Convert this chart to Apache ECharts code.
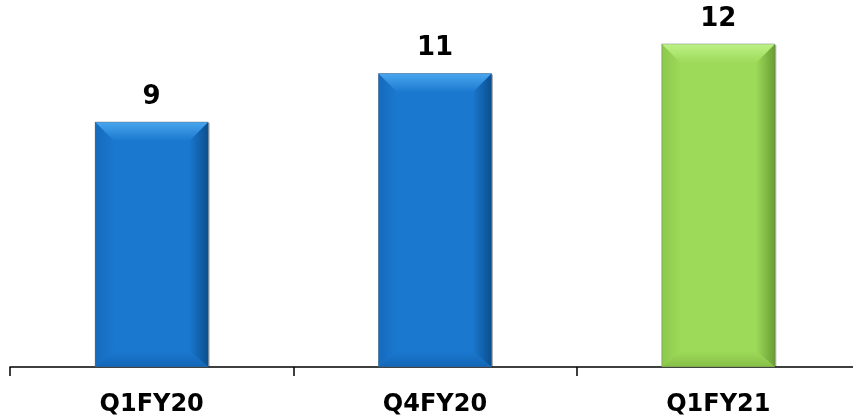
<!DOCTYPE html>
<html><head><meta charset="utf-8">
<script src="https://cdn.jsdelivr.net/npm/echarts@6/dist/echarts.min.js"></script>
<style>html,body{margin:0;padding:0;background:#fff;overflow:hidden}#c{width:860px;height:419px}</style>
</head><body><div id="c"></div>
<script>
var categories = ["Q1FY20", "Q4FY20", "Q1FY21"];
var values = [9.1, 10.9, 12.0];
var valueLabels = ["9", "11", "12"];
var palettes = [
  {face:"#1a78cf", top:"#4aa6ee", left:"#166bbd", right:"#0b4f8e", bottom:"#1466b6"},
  {face:"#1a78cf", top:"#4aa6ee", left:"#166bbd", right:"#0b4f8e", bottom:"#1466b6"},
  {face:"#9dda59", top:"#bdf288", left:"#8cc84c", right:"#699e34", bottom:"#86bf48"}
];
var chart = echarts.init(document.getElementById('c'));
function renderBar(params, api){
  var p = palettes[params.dataIndex];
  var topPt = api.coord([api.value(0), api.value(1)]);
  var basePt = api.coord([api.value(0), 0]);
  var w = 113, b = 19, bb = 16;
  var l = topPt[0] - w/2, r = topPt[0] + w/2, t = topPt[1], bot = basePt[1];
  function lg(x2,y2,c0,c1){return new echarts.graphic.LinearGradient(0,0,x2,y2,[{offset:0,color:c0},{offset:1,color:c1}]);}
  return {type:'group', children:[
    {type:'rect', shape:{x:l+1.5, y:t+1, width:w, height:bot-t-1}, style:{fill:'rgba(0,0,0,0.3)'}},
    {type:'rect', shape:{x:l, y:t, width:w, height:bot-t}, style:{fill:p.face}},
    {type:'polygon', shape:{points:[[l,t],[l+b,t+b],[l+b,bot-bb],[l,bot]]}, style:{fill:lg(1,0,p.left,p.face)}},
    {type:'polygon', shape:{points:[[r,t],[r-b,t+b],[r-b,bot-bb],[r,bot]]}, style:{fill:lg(1,0,p.face,p.right)}},
    {type:'polygon', shape:{points:[[l,bot],[l+b,bot-bb],[r-b,bot-bb],[r,bot]]}, style:{fill:lg(0,1,p.face,p.bottom)}},
    {type:'polygon', shape:{points:[[l,t],[r,t],[r-b,t+b],[l+b,t+b]]}, style:{fill:lg(0,1,p.top,p.face)}},
    {type:'rect', shape:{x:l, y:t, width:w, height:bot-t}, style:{fill:'none',stroke:'rgba(90,90,90,0.35)',lineWidth:1}}
  ]};
}
chart.setOption({
  animation:false,
  grid:{left:10,right:0,top:17,bottom:52},
  xAxis:{type:'category',data:categories,
    axisLine:{lineStyle:{color:'#000',width:1.5}},
    axisTick:{show:true,length:9,lineStyle:{color:'#000',width:1.5}},
    axisLabel:{color:'#000',fontFamily:'DejaVu Sans',fontWeight:'bold',fontSize:24,margin:26}},
  yAxis:{type:'value',min:0,max:13,show:false,splitLine:{show:false}},
  series:[
    {type:'bar',barWidth:113,z:1,itemStyle:{color:'rgba(0,0,0,0)'},data:values,
      label:{show:true,position:'top',distance:12,color:'#000',fontFamily:'DejaVu Sans',fontWeight:'bold',fontSize:26,
        formatter:function(p){return valueLabels[p.dataIndex];}}},
    {type:'custom',z:2,renderItem:renderBar,data:values.map(function(v,i){return [i,v];})}
  ]
});
</script></body></html>
